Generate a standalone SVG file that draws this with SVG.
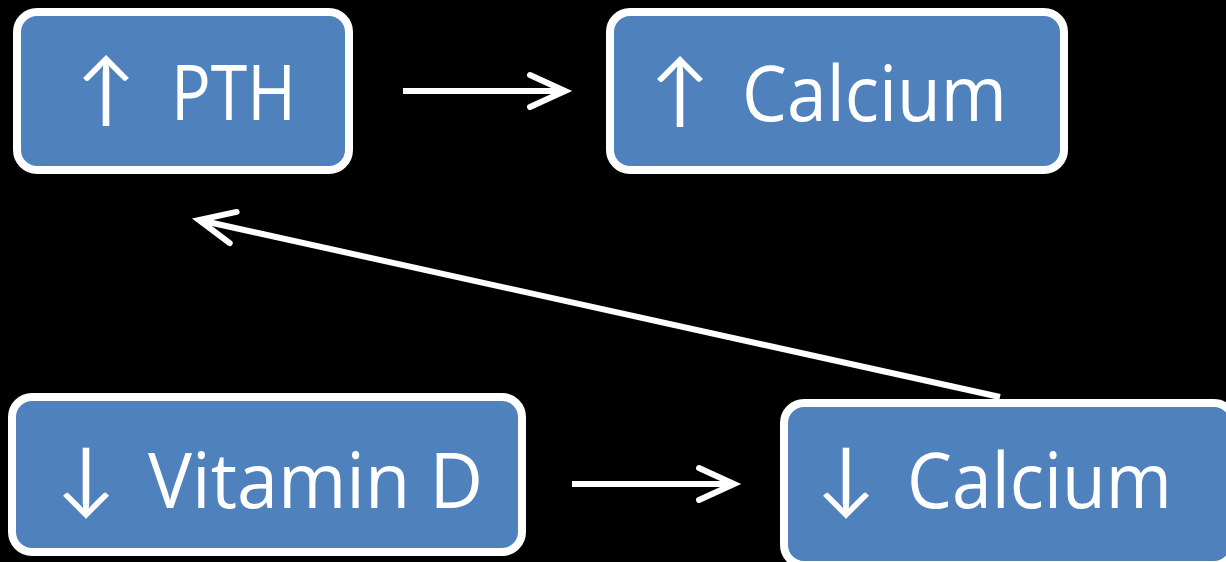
<svg xmlns="http://www.w3.org/2000/svg" width="1226" height="562" viewBox="0 0 1226 562">
<style>
.box{fill:#4F81BD;stroke:#FFFFFF;stroke-width:8}
.lbl{font-family:"Open Sans","Liberation Sans",sans-serif;font-size:77px;fill:#FFFFFF}
.arw{font-family:"Lato","Noto Sans CJK SC",sans-serif;font-size:80px}
.con{stroke:#FFFFFF;stroke-width:6;fill:none}
</style>
<defs>
<marker id="head" markerUnits="userSpaceOnUse" viewBox="-40 -20 44 40" refX="0" refY="0" markerWidth="44" markerHeight="40" orient="auto" overflow="visible">
<path d="M-35,-16 L0,0 L-35,16" fill="none" stroke="#FFFFFF" stroke-width="6" stroke-linecap="round" stroke-linejoin="miter"/>
</marker>
</defs>
<rect width="1226" height="562" fill="#000000"/>
<g id="connectors">
<line class="con" x1="403" y1="91" x2="565" y2="91" marker-end="url(#head)"/>
<line class="con" x1="572" y1="484" x2="734" y2="484" marker-end="url(#head)"/>
<line class="con" x1="1000" y1="397" x2="199" y2="220" marker-end="url(#head)"/>
</g>
<g id="node-pth">
<rect class="box" x="17" y="12" width="332" height="158" rx="20"/>
<text class="lbl" y="120"><tspan class="arw" x="76" dy="-3">↑ </tspan><tspan x="171" dy="3" textLength="125" lengthAdjust="spacingAndGlyphs">PTH</tspan></text>
</g>
<g id="node-calcium-up">
<rect class="box" x="610" y="12" width="454" height="158" rx="20"/>
<text class="lbl" y="121"><tspan class="arw" x="650" dy="-3">↑ </tspan><tspan x="742" dy="3" textLength="265" lengthAdjust="spacingAndGlyphs">Calcium</tspan></text>
</g>
<g id="node-vitd">
<rect class="box" x="12" y="397" width="510" height="155" rx="20"/>
<text class="lbl" y="508"><tspan class="arw" x="56" dy="-3">↓ </tspan><tspan x="148" dy="3" textLength="335" lengthAdjust="spacingAndGlyphs">Vitamin D</tspan></text>
</g>
<g id="node-calcium-down">
<rect class="box" x="784" y="403" width="450" height="162" rx="20"/>
<text class="lbl" y="508"><tspan class="arw" x="816" dy="-3">↓ </tspan><tspan x="907" dy="3" textLength="265" lengthAdjust="spacingAndGlyphs">Calcium</tspan></text>
</g>
</svg>
